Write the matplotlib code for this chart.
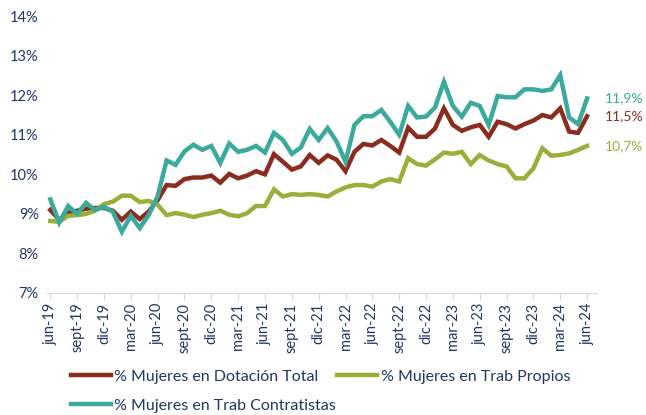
import matplotlib.pyplot as plt
import numpy as np
import pandas as pd
from matplotlib.ticker import FuncFormatter

plt.rcParams['font.family'] = ['Lato', 'DejaVu Sans']

# monthly data jun-19 .. jun-24
meses = pd.date_range("2019-06-01", "2024-06-01", freq="MS")
nombres = {3: "mar", 6: "jun", 9: "sept", 12: "dic"}

dotacion_total = [9.1, 8.85, 9.03, 9.08, 9.13, 9.15, 9.15, 9.08, 8.85, 9.06, 8.87, 9.06, 9.35,
                  9.73, 9.71, 9.88, 9.92, 9.92, 9.97, 9.79, 10.01, 9.9, 9.97, 10.08, 10.0,
                  10.51, 10.32, 10.12, 10.2, 10.49, 10.29, 10.48, 10.37, 10.08, 10.57, 10.77,
                  10.73, 10.87, 10.72, 10.55, 11.18, 10.95, 10.95, 11.16, 11.67, 11.25, 11.1,
                  11.19, 11.25, 10.95, 11.33, 11.27, 11.16, 11.27, 11.36, 11.5, 11.44, 11.67,
                  11.08, 11.05, 11.47]
trab_propios = [8.82, 8.8, 8.95, 8.97, 9.0, 9.08, 9.25, 9.31, 9.46, 9.46, 9.3, 9.33, 9.23,
                8.97, 9.02, 8.98, 8.92, 8.98, 9.02, 9.08, 8.98, 8.94, 9.02, 9.2, 9.2,
                9.62, 9.44, 9.5, 9.48, 9.5, 9.48, 9.44, 9.57, 9.67, 9.73, 9.73,
                9.69, 9.82, 9.88, 9.82, 10.41, 10.26, 10.22, 10.38, 10.55, 10.52, 10.57,
                10.26, 10.49, 10.35, 10.26, 10.2, 9.9, 9.9, 10.15, 10.66, 10.47, 10.49,
                10.53, 10.62, 10.72]
trab_contratistas = [9.37, 8.78, 9.2, 9.0, 9.28, 9.1, 9.18, 9.05, 8.55, 8.95, 8.64, 8.97, 9.45,
                     10.35, 10.24, 10.58, 10.75, 10.62, 10.72, 10.29, 10.78, 10.57, 10.62, 10.72, 10.55,
                     11.05, 10.87, 10.52, 10.68, 11.15, 10.87, 11.17, 10.83, 10.32, 11.25, 11.47,
                     11.47, 11.63, 11.33, 11.0, 11.73, 11.44, 11.46, 11.69, 12.34, 11.73, 11.46,
                     11.81, 11.73, 11.25, 11.98, 11.95, 11.95, 12.15, 12.15, 12.11, 12.15, 12.51,
                     11.44, 11.27, 11.92]

series = [
    ("% Mujeres en Dotación Total", dotacion_total, "#8B2C1E"),
    ("% Mujeres en Trab Propios", trab_propios, "#9AAF3B"),
    ("% Mujeres en Trab Contratistas", trab_contratistas, "#3BAA9C"),
]
navy = "#1F3864"

fig = plt.figure(figsize=(6.46, 4.15), dpi=100)
ax = fig.add_axes([0.073, 0.294, 0.851, 0.667])

x = np.arange(len(meses))
lineas = []
for nombre, valores, color in series:
    l, = ax.plot(x, valores, color=color, lw=3.2, label=nombre, solid_joinstyle="miter")
    lineas.append(l)

# end labels
for nombre, valores, color in series:
    ax.text(62.0, valores[-1], f"{valores[-1]:.1f}%".replace(".", ","), color=color,
            fontsize=10, va="center", ha="left")

ax.set_ylim(7, 14)
ax.set_xlim(-0.35, 61.1)
ax.yaxis.set_major_formatter(FuncFormatter(lambda v, p: f"{v:.0f}%"))
ax.set_yticks(range(7, 15))

pos = x[::3]
etiquetas = [f"{nombres[d.month]}-{d.strftime('%y')}" for d in meses[::3]]
ax.set_xticks(pos)
ax.set_xticklabels(etiquetas, rotation=90)

for s in ["top", "right", "left"]:
    ax.spines[s].set_visible(False)
ax.spines["bottom"].set_color("#D9D9D9")
ax.tick_params(axis="y", length=0, labelsize=10.5, labelcolor=navy, pad=6)
ax.tick_params(axis="x", length=5, color="#D9D9D9", labelsize=10.5, labelcolor=navy, pad=2)

# legend filled by columns: red, teal | green
orden = [lineas[0], lineas[2], lineas[1]]
fig.legend(orden, [l.get_label() for l in orden], loc="upper left",
           bbox_to_anchor=(0.1, 0.125), ncol=2, frameon=False,
           fontsize=11.5, handlelength=2.5, handletextpad=0.2, columnspacing=0.1,
           labelcolor=navy, borderaxespad=0, labelspacing=0.95)

fig.savefig("out.png", dpi=100)
